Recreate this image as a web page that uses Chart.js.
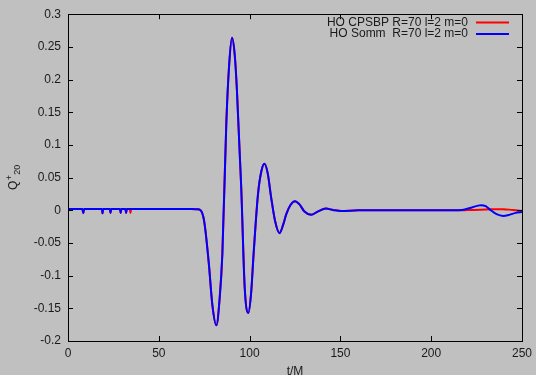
<!DOCTYPE html>
<html>
<head>
<meta charset="utf-8">
<script src="https://cdn.jsdelivr.net/npm/chart.js@4/dist/chart.umd.min.js"></script>
<style>
  html, body { margin: 0; padding: 0; background: #c0c0c0; }
  #wrap { width: 536px; height: 375px; }
</style>
</head>
<body>
<div id="wrap"><canvas id="chart" width="536" height="375"></canvas></div>
<script>
// time samples (t/M)
const tValues = [0, 7.9, 8.4, 8.9, 18.6, 19.0, 19.4, 23.0, 23.4, 23.8, 28.6, 29.0, 29.4, 31.6, 32.0, 32.4,
  34.0, 34.4, 34.8, 45, 60, 68, 71, 73, 75, 77.5, 79.5, 81.7, 83.5, 85, 87.2, 88.8, 90.3, 91.8, 93, 95.4,
  97.3, 99.3, 100.8, 102.2, 104.6, 106.5, 108.2, 110, 111.9, 114, 116.5, 118.5, 120.2, 122.5, 125.0, 127.5,
  130.2, 133.9, 137.5, 142, 146, 150.4, 160, 180, 200, 212, 217, 222, 227.3, 230, 232.8, 236, 239.6, 243,
  246.5, 250];

const cpsbpValues = [0.002, 0.002, -0.0045, 0.002, 0.002, -0.0045, 0.002, 0.002, -0.004, 0.002, 0.002, -0.004, 0.002, 0.002, -0.004, 0.002,
  0.002, -0.004, 0.002, 0.002, 0.002, 0.002, 0.0015, 0.0, -0.017, -0.08, -0.145, -0.176, -0.135, -0.067, 0.135, 0.225, 0.264, 0.238, 0.185, 0.034,
  -0.118, -0.157, -0.128, -0.067, 0.024, 0.060, 0.071, 0.056, 0.019, -0.016, -0.035, -0.022, -0.006, 0.008, 0.014, 0.009,
  -0.002, -0.007, -0.002, 0.0026, 0.0005, -0.0012, 0.0, 0.0, 0.0, 0.0, 0.0, 0.0005, 0.001, 0.0012, 0.0014, 0.0016, 0.0015, 0.001,
  0.0, -0.001];

const sommValues = [0.002, 0.002, -0.0045, 0.002, 0.002, -0.0045, 0.002, 0.002, -0.004, 0.002, 0.002, -0.004, 0.002, 0.002, -0.004, 0.002,
  0.002, 0.002, 0.002, 0.002, 0.002, 0.002, 0.0015, 0.0, -0.017, -0.08, -0.145, -0.176, -0.135, -0.067, 0.135, 0.225, 0.264, 0.238, 0.185, 0.034,
  -0.118, -0.157, -0.128, -0.067, 0.024, 0.060, 0.071, 0.056, 0.019, -0.016, -0.035, -0.022, -0.006, 0.008, 0.014, 0.009,
  -0.002, -0.007, -0.002, 0.0026, 0.0005, -0.0012, 0.0, 0.0, 0.0, 0.0, 0.0005, 0.004, 0.0078, 0.0065, 0.0, -0.006, -0.0086, -0.007,
  -0.004, -0.0025];

const seriesLabels = ['HO CPSBP R=70 l=2 m=0', 'HO Somm  R=70 l=2 m=0'];
const xTicks = [0, 50, 100, 150, 200, 250];
const yTicks = [-0.2, -0.15, -0.1, -0.05, 0, 0.05, 0.1, 0.15, 0.2, 0.25, 0.3];

const FONT = '"Liberation Sans", Arial, sans-serif';

function toPoints(values) {
  return tValues.map((t, i) => ({ x: t, y: values[i] }));
}

// gnuplot-ish frame: border plus inward ticks on all four sides
const framePlugin = {
  id: 'frame',
  afterDatasetsDraw(chart) {
    const ctx = chart.ctx;
    const a = chart.chartArea;
    const xs = chart.scales.x, ys = chart.scales.y;
    ctx.save();
    ctx.strokeStyle = '#000';
    ctx.lineWidth = 1;
    ctx.beginPath();
    xTicks.forEach(v => {
      const px = Math.round(xs.getPixelForValue(v)) + 0.5;
      ctx.moveTo(px, a.bottom); ctx.lineTo(px, a.bottom - 5);
      ctx.moveTo(px, a.top); ctx.lineTo(px, a.top + 5);
    });
    yTicks.forEach(v => {
      const py = Math.round(ys.getPixelForValue(v)) + 0.5;
      ctx.moveTo(a.left, py); ctx.lineTo(a.left + 5, py);
      ctx.moveTo(a.right, py); ctx.lineTo(a.right - 5, py);
    });
    ctx.stroke();
    ctx.strokeRect(Math.round(a.left) + 0.5, Math.round(a.top) + 0.5,
      Math.round(a.right - a.left), Math.round(a.bottom - a.top));
    ctx.restore();
  },
  afterDraw(chart) {
    const ctx = chart.ctx;
    ctx.save();
    // legend: text then line sample
    const sets = chart.data.datasets;
    const rowY = [22.5, 34];
    ctx.font = '12px ' + FONT;
    ctx.textAlign = 'right';
    ctx.textBaseline = 'middle';
    sets.forEach((ds, row) => {
      ctx.fillStyle = '#1a1a1a';
      ctx.fillText(ds.label, 468, rowY[row]);
      ctx.strokeStyle = ds.borderColor;
      ctx.lineWidth = 2;
      ctx.beginPath();
      ctx.moveTo(476, rowY[row]);
      ctx.lineTo(509, rowY[row]);
      ctx.stroke();
    });

    // x title
    ctx.fillStyle = '#1a1a1a';
    ctx.textAlign = 'center';
    ctx.textBaseline = 'alphabetic';
    ctx.fillText('t/M', 295, 375);

    // y title Q^+_20, rotated
    ctx.translate(17, 190);
    ctx.rotate(-Math.PI / 2);
    ctx.textAlign = 'left';
    ctx.font = '12px ' + FONT;
    ctx.fillText('Q', 0, 0);
    const qw = ctx.measureText('Q').width;
    ctx.font = '9px ' + FONT;
    ctx.fillText('+', qw + 0.5, -5);
    ctx.fillText('20', qw + 6, 3);
    ctx.restore();
  }
};

const ctx = document.getElementById('chart').getContext('2d');
new Chart(ctx, {
  type: 'line',
  data: {
    datasets: [{
      label: seriesLabels[0],
      data: toPoints(cpsbpValues),
      borderColor: '#ff0000',
      borderWidth: 2,
      pointRadius: 0,
      cubicInterpolationMode: 'monotone',
      fill: false,
      order: 2
    }, {
      label: seriesLabels[1],
      data: toPoints(sommValues),
      borderColor: '#0000ff',
      borderWidth: 2,
      pointRadius: 0,
      cubicInterpolationMode: 'monotone',
      fill: false,
      order: 1
    }]
  },
  options: {
    responsive: false,
    animation: false,
    layout: { padding: { left: 0, right: 14, top: 11, bottom: 0 } },
    plugins: {
      legend: { display: false },
      tooltip: { enabled: false }
    },
    scales: {
      x: {
        type: 'linear',
        min: 0,
        max: 250,
        afterBuildTicks: s => { s.ticks = xTicks.map(v => ({ value: v })); },
        afterFit: s => { s.height = 34; s.paddingLeft = 0; s.paddingRight = 0; },
        grid: { display: false, drawTicks: false },
        border: { display: false },
        ticks: {
          padding: 5,
          color: '#1a1a1a',
          font: { family: FONT, size: 12 },
          maxRotation: 0
        }
      },
      y: {
        type: 'linear',
        min: -0.2,
        max: 0.3,
        afterBuildTicks: s => { s.ticks = yTicks.map(v => ({ value: v })); },
        afterFit: s => { s.width = 68; },
        grid: { display: false, drawTicks: false },
        border: { display: false },
        ticks: {
          padding: 7,
          color: '#1a1a1a',
          font: { family: FONT, size: 12 },
          callback: v => String(parseFloat(Number(v).toFixed(2)))
        }
      }
    }
  },
  plugins: [framePlugin]
});
</script>
</body>
</html>
